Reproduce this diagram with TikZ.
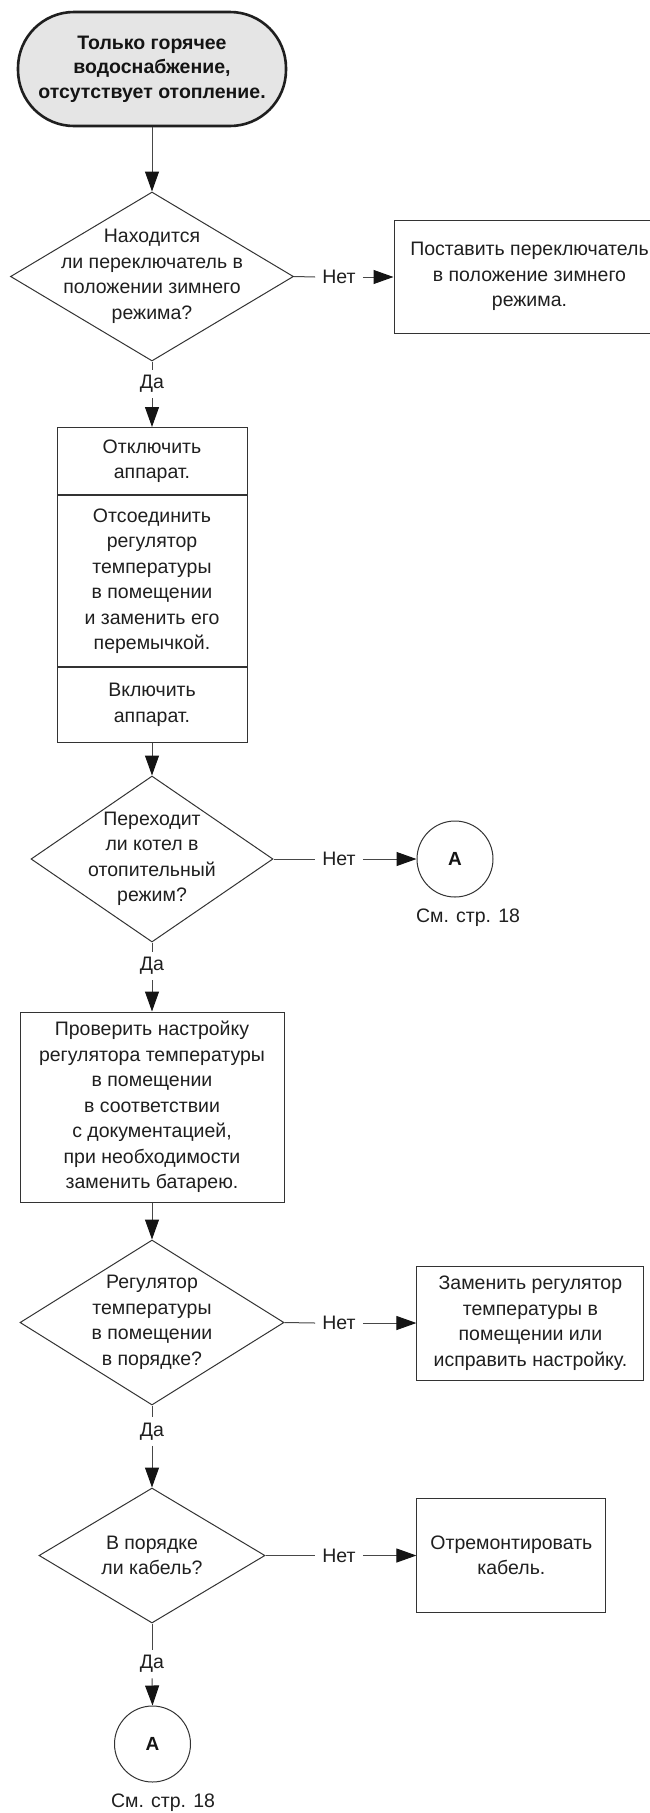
\documentclass[tikz,border=0pt]{standalone}
\usepackage{fontspec}
\setmainfont{Liberation Sans}
\usetikzlibrary{shapes.geometric, arrows.meta}

\begin{document}
\begin{tikzpicture}[x=1pt, y=-1pt,
  txt/.style={font=\fontsize{19.5}{25.5}\selectfont, text=black!88, align=center},
  shapeline/.style={draw=black!80, line width=1pt},
  box/.style={shapeline, txt, rectangle, inner sep=2pt},
  decision/.style={shapeline, diamond, inner sep=0pt},
  terminal/.style={draw=black!88, line width=2.6pt, fill=black!10, rectangle,
    rounded corners=56pt, minimum width=268pt, minimum height=114pt,
    font=\fontsize{19.5}{24.5}\selectfont\bfseries, text=black!92, align=center},
  conn/.style={draw=black!72, line width=1pt},
  arr/.style={conn, -{Triangle[length=20pt,width=14pt,color=black!92]}},
  answer/.style={txt, inner xsep=7pt, inner ysep=5.5pt},
  offpage/.style={shapeline, circle, minimum size=76pt, inner sep=0pt,
    font=\fontsize{19}{22}\selectfont\bfseries, text=black!92},
]
\useasboundingbox (0,0) rectangle (650,1813);
\fill[white] (0,0) rectangle (650,1813);
\clip (0,0) rectangle (650,1813);

% start
\node[terminal] (start) at (152,69) {Только горячее\\водоснабжение,\\отсутствует отопление.};

% question 1
\node[decision, minimum width=283pt, minimum height=169pt] (q1) at (152,276.5) {};
\node[txt] (q1t) at (q1.center) {Находится\\ли переключатель в\\положении зимнего\\режима?};
\node[answer] (no1) at (339,277) {Нет};
\node[box, minimum width=271pt, minimum height=113pt] (fix1) at (529.5,276.5) {Поставить переключатель\\в положение зимнего\\режима.};
\node[answer] (yes1) at (152,384) {Да};

% stacked actions
\node[box, minimum width=190pt, minimum height=67pt, anchor=north] (s1) at (152,427) {Отключить\\аппарат.};
\node[box, minimum width=190pt, minimum height=171pt, anchor=north] (s2) at (s1.south) {Отсоединить\\регулятор\\температуры\\в помещении\\и заменить его\\перемычкой.};
\node[box, minimum width=190pt, minimum height=75pt, anchor=north] (s3) at (s2.south) {Включить\\аппарат.};

% question 2
\node[decision, minimum width=242pt, minimum height=166pt] (q2) at (152,859) {};
\node[txt] (q2t) at (q2.center) {Переходит\\ли котел в\\отопительный\\режим?};
\node[answer] (no2) at (339,859) {Нет};
\node[offpage] (ref1) at (455,859) {A};
\node[txt] (ref1t) at (468,918) {См. стр. 18};
\node[answer] (yes2) at (152,966) {Да};

% check thermostat
\node[box, minimum width=264pt, minimum height=190pt] (check) at (152,1107) {Проверить настройку\\регулятора температуры\\в помещении\\в соответствии\\с документацией,\\при необходимости\\заменить батарею.};

% question 3
\node[decision, minimum width=264pt, minimum height=165pt] (q3) at (152,1322.5) {};
\node[txt] (q3t) at (q3.center) {Регулятор\\температуры\\в помещении\\в порядке?};
\node[answer] (no3) at (339,1323) {Нет};
\node[box, minimum width=227pt, minimum height=114pt] (fix3) at (530.4,1323) {Заменить регулятор\\температуры в\\помещении или\\исправить настройку.};
\node[answer] (yes3) at (152,1431.5) {Да};

% question 4
\node[decision, minimum width=226pt, minimum height=135pt] (q4) at (152,1555.5) {};
\node[txt] (q4t) at (q4.center) {В порядке\\ли кабель?};
\node[answer] (no4) at (339,1555.5) {Нет};
\node[box, minimum width=189pt, minimum height=114pt] (fix4) at (511.4,1555.5) {Отремонтировать\\кабель.};
\node[answer] (yes4) at (152,1664) {Да};
\node[offpage] (ref2) at (152.5,1744) {A};
\node[txt] (ref2t) at (163,1803) {См. стр. 18};

% connectors
\draw[arr] (start.south) -- (q1.north);
\draw[conn] (q1.east) -- (no1.west);
\draw[arr] (no1.east) -- (no1.east -| fix1.west);
\draw[conn] (q1.south) -- (yes1.north);
\draw[arr] (yes1.south) -- (s1.north);
\draw[arr] (s3.south) -- (q2.north);
\draw[conn] (q2.east) -- (no2.west);
\draw[arr] (no2.east) -- (ref1.west);
\draw[conn] (q2.south) -- (yes2.north);
\draw[arr] (yes2.south) -- (check.north);
\draw[arr] (check.south) -- (q3.north);
\draw[conn] (q3.east) -- (no3.west);
\draw[arr] (no3.east) -- (no3.east -| fix3.west);
\draw[conn] (q3.south) -- (yes3.north);
\draw[arr] (yes3.south) -- (q4.north);
\draw[conn] (q4.east) -- (no4.west);
\draw[arr] (no4.east) -- (no4.east -| fix4.west);
\draw[conn] (q4.south) -- (yes4.north);
\draw[arr] (yes4.south) -- (ref2.north);
\end{tikzpicture}
\end{document}
